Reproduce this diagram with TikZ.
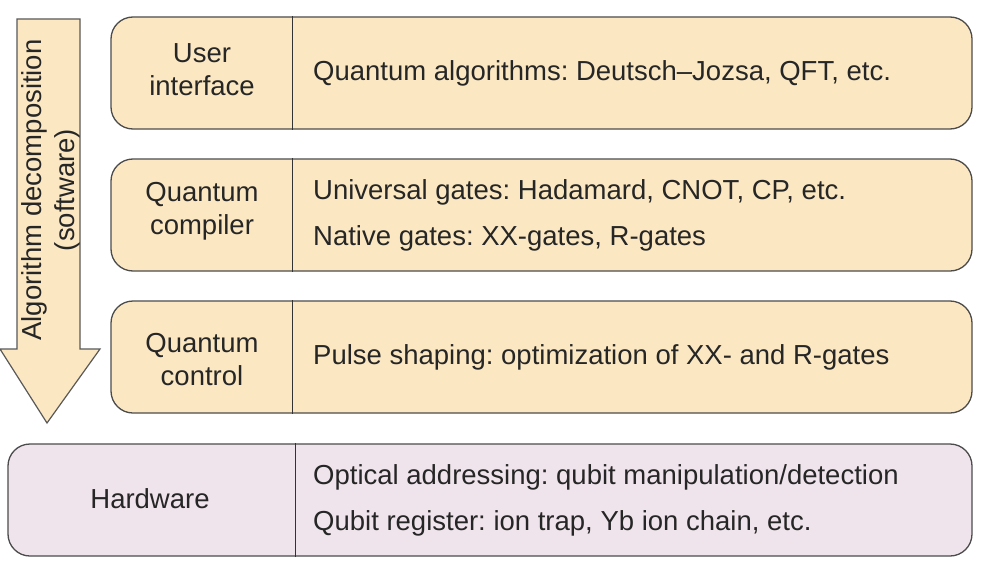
\documentclass[tikz,border=0pt]{standalone}
\usepackage{fontspec}
\setmainfont{Liberation Sans}
\frenchspacing
\begin{document}
\begin{tikzpicture}[x=1pt,y=-1pt,
  layer/.style={draw=black!70, line width=1.3pt, rounded corners=22pt, inner sep=0pt},
  sw/.style={layer, fill=swfill},
  hw/.style={layer, fill=hwfill},
  lbl/.style={align=center, font=\fontsize{27.5}{33}\selectfont, text=black!85},
  txt/.style={anchor=west, inner sep=0pt, font=\fontsize{27.5}{33}\selectfont, text=black!85},
  divider/.style={draw=black!80, line width=1.3pt}
]
\definecolor{swfill}{RGB}{251,232,194}
\definecolor{hwfill}{RGB}{240,228,236}
\useasboundingbox (0,0) rectangle (992,567);
\fill[white] (0,0) rectangle (992,567);

% downward arrow: algorithm decomposition
\draw[fill=swfill, draw=black!65, line width=1.2pt]
  (17,19) -- (80,19) -- (80,349) -- (100,349) -- (47,423) -- (0,349) -- (17,349) -- cycle;
\node[rotate=90, align=center, font=\fontsize{27.5}{33}\selectfont, text=black!85] (arrowtxt) at (51,190)
  {Algorithm decomposition\\(software)};

% software layers
\node[sw, minimum width=861pt, minimum height=112pt] (ui) at (541.5,73) {};
\node[sw, minimum width=861pt, minimum height=112pt] (comp) at (541.5,215) {};
\node[sw, minimum width=861pt, minimum height=112pt] (ctrl) at (541.5,357) {};
% hardware layer
\node[hw, minimum width=964pt, minimum height=112pt] (hwbox) at (490,500) {};

\foreach \b/\d in {ui/182, comp/182, ctrl/182, hwbox/288}
  \draw[divider] ([xshift=\d pt]\b.north west) -- ([xshift=\d pt]\b.south west);

% left-hand labels
\node[lbl] (uil) at (202,70) {User\\interface};
\node[lbl] (compl) at (202,211) {Quantum\\compiler};
\node[lbl] (ctrll) at (202,360) {Quantum\\control};
\node[lbl] (hwl) at (150,499) {Hardware};

% right-hand descriptions
\node[txt] (uit) at (313,73) {Quantum algorithms: Deutsch–Jozsa, QFT, etc.};
\node[txt] (compt1) at (313,192) {Universal gates: Hadamard, CNOT, CP, etc.};
\node[txt] (compt2) at (313,238) {Native gates: XX-gates, R-gates};
\node[txt] (ctrlt) at (313,357) {Pulse shaping: optimization of XX- and R-gates};
\node[txt] (hwt1) at (313,477) {Optical addressing: qubit manipulation/detection};
\node[txt] (hwt2) at (313,523) {Qubit register: ion trap, Yb ion chain, etc.};
\end{tikzpicture}
\end{document}
